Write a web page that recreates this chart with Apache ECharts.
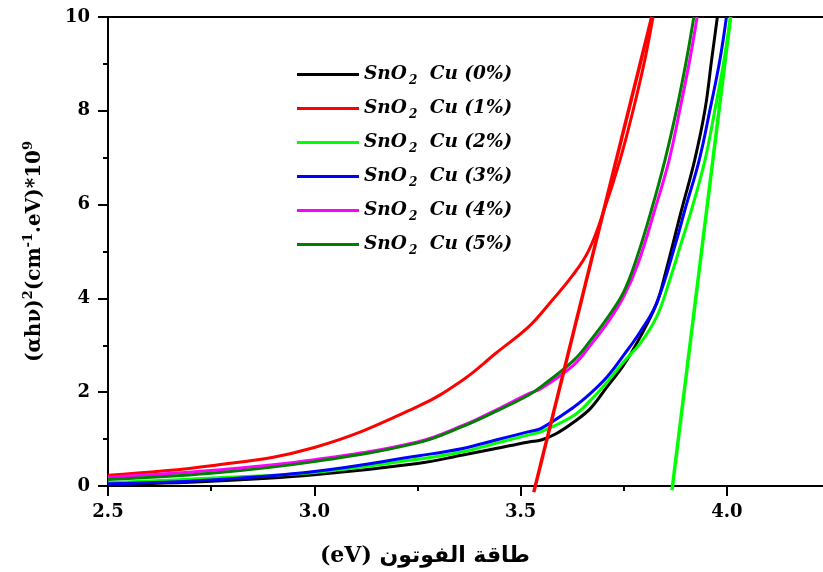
<!DOCTYPE html>
<html>
<head>
<meta charset="utf-8">
<script src="https://cdn.jsdelivr.net/npm/echarts@6/dist/echarts.min.js"></script>
<style>
  html, body { margin: 0; padding: 0; background: #ffffff; }
  #chart { width: 823px; height: 572px; }
</style>
</head>
<body>
<div id="chart"></div>
<script>
// Tauc plot of Cu-doped SnO2 films: (αhν)² against photon energy

// photon energy (eV) and (αhν)² (×10⁹) for each doping level
const energyCu0 = [2.5, 2.75, 3.0, 3.25, 3.36, 3.44, 3.52, 3.55, 3.587, 3.63, 3.67, 3.71, 3.75, 3.79, 3.83, 3.85, 3.89, 3.922, 3.947, 3.963, 3.977];
const alphaCu0  = [0.03, 0.10, 0.24, 0.48, 0.66, 0.80, 0.94, 0.98, 1.12, 1.37, 1.66, 2.12, 2.58, 3.18, 3.90, 4.50, 5.88, 6.95, 8.02, 9.08, 10];

const energyCu1 = [2.5, 2.75, 3.0, 3.25, 3.36, 3.44, 3.52, 3.567, 3.627, 3.665, 3.70, 3.741, 3.773, 3.801, 3.821];
const alphaCu1  = [0.23, 0.43, 0.82, 1.69, 2.26, 2.83, 3.40, 3.86, 4.50, 5.02, 5.82, 6.95, 8.02, 9.08, 10];

const energyCu2 = [2.5, 2.75, 3.0, 3.25, 3.36, 3.44, 3.52, 3.55, 3.63, 3.67, 3.71, 3.75, 3.79, 3.83, 3.86, 3.89, 3.914, 3.947, 3.971, 3.993, 4.009];
const alphaCu2  = [0.07, 0.17, 0.29, 0.57, 0.73, 0.91, 1.09, 1.16, 1.51, 1.83, 2.22, 2.65, 3.04, 3.61, 4.35, 5.20, 5.88, 6.95, 8.02, 9.08, 10];

const energyCu3 = [2.5, 2.75, 3.0, 3.25, 3.36, 3.44, 3.52, 3.55, 3.63, 3.67, 3.71, 3.75, 3.79, 3.83, 3.878, 3.898, 3.933, 3.959, 3.983, 3.999];
const alphaCu3  = [0.05, 0.13, 0.31, 0.64, 0.80, 0.98, 1.16, 1.23, 1.69, 1.98, 2.33, 2.79, 3.29, 3.90, 5.24, 5.88, 6.95, 8.02, 9.08, 10];

const energyCu4 = [2.5, 2.75, 3.0, 3.25, 3.36, 3.44, 3.52, 3.55, 3.63, 3.67, 3.71, 3.75, 3.785, 3.825, 3.86, 3.886, 3.91, 3.928];
const alphaCu4  = [0.19, 0.33, 0.56, 0.94, 1.29, 1.62, 1.97, 2.08, 2.59, 3.01, 3.47, 4.04, 4.75, 5.88, 6.95, 8.02, 9.08, 10];

const energyCu5 = [2.5, 2.75, 3.0, 3.25, 3.36, 3.44, 3.52, 3.55, 3.63, 3.67, 3.71, 3.75, 3.78, 3.817, 3.85, 3.878, 3.902, 3.92];
const alphaCu5  = [0.14, 0.27, 0.52, 0.92, 1.27, 1.59, 1.94, 2.12, 2.69, 3.11, 3.58, 4.14, 4.82, 5.88, 6.95, 8.02, 9.08, 10];

// linear extrapolations of the absorption edge (band-gap fits)
const fitEnergyCu1 = [3.532, 3.818];
const fitAlphaCu1  = [-0.13, 10];
const fitEnergyCu2 = [3.867, 4.009];
const fitAlphaCu2  = [-0.09, 10];

// legend labels and line colours
const sampleNames  = ['SnO₂ Cu (0%)', 'SnO₂ Cu (1%)', 'SnO₂ Cu (2%)', 'SnO₂ Cu (3%)', 'SnO₂ Cu (4%)', 'SnO₂ Cu (5%)'];
const sampleColors = ['#000000', '#ff0000', '#00ff00', '#0000ff', '#ff00ff', '#008000'];

// axis ticks
const xTicks = { min: 2.5, max: 4.25, interval: 0.5 };
const yTicks = { min: 0, max: 10, interval: 2 };

const zip = (xs, ys) => xs.map((x, i) => [x, ys[i]]);

const curves = [
  [energyCu0, alphaCu0], [energyCu1, alphaCu1], [energyCu2, alphaCu2],
  [energyCu3, alphaCu3], [energyCu4, alphaCu4], [energyCu5, alphaCu5]
];

const serif = '"DejaVu Serif", "Liberation Serif", serif';

const series = curves.map((c, i) => ({
  name: sampleNames[i],
  type: 'line',
  data: zip(c[0], c[1]),
  showSymbol: false,
  smooth: 0.4,
  lineStyle: { color: sampleColors[i], width: 3 },
  itemStyle: { color: sampleColors[i] },
  emphasis: { disabled: true },
  z: 2 + i
}));

series.push({
  name: 'fit-1',
  type: 'line',
  data: zip(fitEnergyCu1, fitAlphaCu1),
  showSymbol: false,
  clip: false,
  lineStyle: { color: '#ff0000', width: 3.5 },
  emphasis: { disabled: true },
  z: 10
});
series.push({
  name: 'fit-2',
  type: 'line',
  data: zip(fitEnergyCu2, fitAlphaCu2),
  showSymbol: false,
  clip: false,
  lineStyle: { color: '#00ff00', width: 3.5 },
  emphasis: { disabled: true },
  z: 10
});

const chart = echarts.init(document.getElementById('chart'), null, { renderer: 'canvas' });

chart.setOption({
  backgroundColor: '#ffffff',
  animation: false,
  grid: {
    left: 108, right: -7, top: 17, bottom: 86,
    outerBoundsMode: 'none',
    containLabel: false,
    show: true,
    borderColor: '#000000',
    borderWidth: 2,
    backgroundColor: 'transparent'
  },
  legend: {
    data: sampleNames,
    orient: 'vertical',
    left: 292,
    top: 57,
    itemWidth: 62,
    itemHeight: 3,
    itemGap: 9,
    icon: 'rect',
    selectedMode: false,
    formatter: name => {
      const parts = name.split('₂');
      return '{t|' + parts[0] + '}{s|2}{t|' + parts[1] + '}';
    },
    textStyle: {
      rich: {
        t: { fontFamily: serif, fontWeight: 'bold', fontStyle: 'italic', fontSize: 18.5, color: '#000000', lineHeight: 20 },
        s: { fontFamily: serif, fontWeight: 'bold', fontStyle: 'italic', fontSize: 12, color: '#000000', lineHeight: 12, padding: [13, 6, 0, 2] }
      }
    }
  },
  xAxis: [{
    type: 'value',
    min: xTicks.min,
    max: xTicks.max,
    interval: xTicks.interval,
    position: 'bottom',
    name: '(eV) طاقة الفوتون',
    nameLocation: 'middle',
    nameGap: 59,
    nameTextStyle: {
      fontFamily: '"DejaVu Serif", "DejaVu Sans", serif',
      fontWeight: 'bold',
      fontSize: 22,
      color: '#000000',
      padding: [0, 88, 0, 0]
    },
    axisLine: { show: true, onZero: false, lineStyle: { color: '#000000', width: 2 } },
    axisTick: { show: true, inside: false, length: 10, lineStyle: { color: '#000000', width: 2 } },
    minorTick: { show: true, splitNumber: 2, length: 5, lineStyle: { color: '#000000', width: 2 } },
    splitLine: { show: false },
    minorSplitLine: { show: false },
    axisLabel: {
      show: true,
      margin: 17,
      showMaxLabel: false,
      fontFamily: serif,
      fontWeight: 'bold',
      fontSize: 18,
      color: '#000000',
      formatter: v => v.toFixed(1)
    }
  }],
  yAxis: [{
    type: 'value',
    min: yTicks.min,
    max: yTicks.max,
    interval: yTicks.interval,
    name: '{t|(αhν)}{p|2}{t|(cm}{p|-1}{t|.eV)*10}{p|9}',
    nameLocation: 'middle',
    nameRotate: 90,
    nameGap: 62,
    nameTextStyle: {
      rich: {
        t: { fontFamily: serif, fontWeight: 'bold', fontSize: 20, color: '#000000', lineHeight: 22 },
        p: { fontFamily: serif, fontWeight: 'bold', fontSize: 13, color: '#000000', lineHeight: 13, padding: [0, 0, 12, 0] }
      }
    },
    axisLine: { show: true, onZero: false, lineStyle: { color: '#000000', width: 2 } },
    axisTick: { show: true, inside: false, length: 10, lineStyle: { color: '#000000', width: 2 } },
    minorTick: { show: true, splitNumber: 2, length: 5, lineStyle: { color: '#000000', width: 2 } },
    splitLine: { show: false },
    minorSplitLine: { show: false },
    axisLabel: {
      show: true,
      margin: 18,
      fontFamily: serif,
      fontWeight: 'bold',
      fontSize: 18,
      color: '#000000'
    }
  }],
  tooltip: { show: false },
  series: series
});
</script>
</body>
</html>
